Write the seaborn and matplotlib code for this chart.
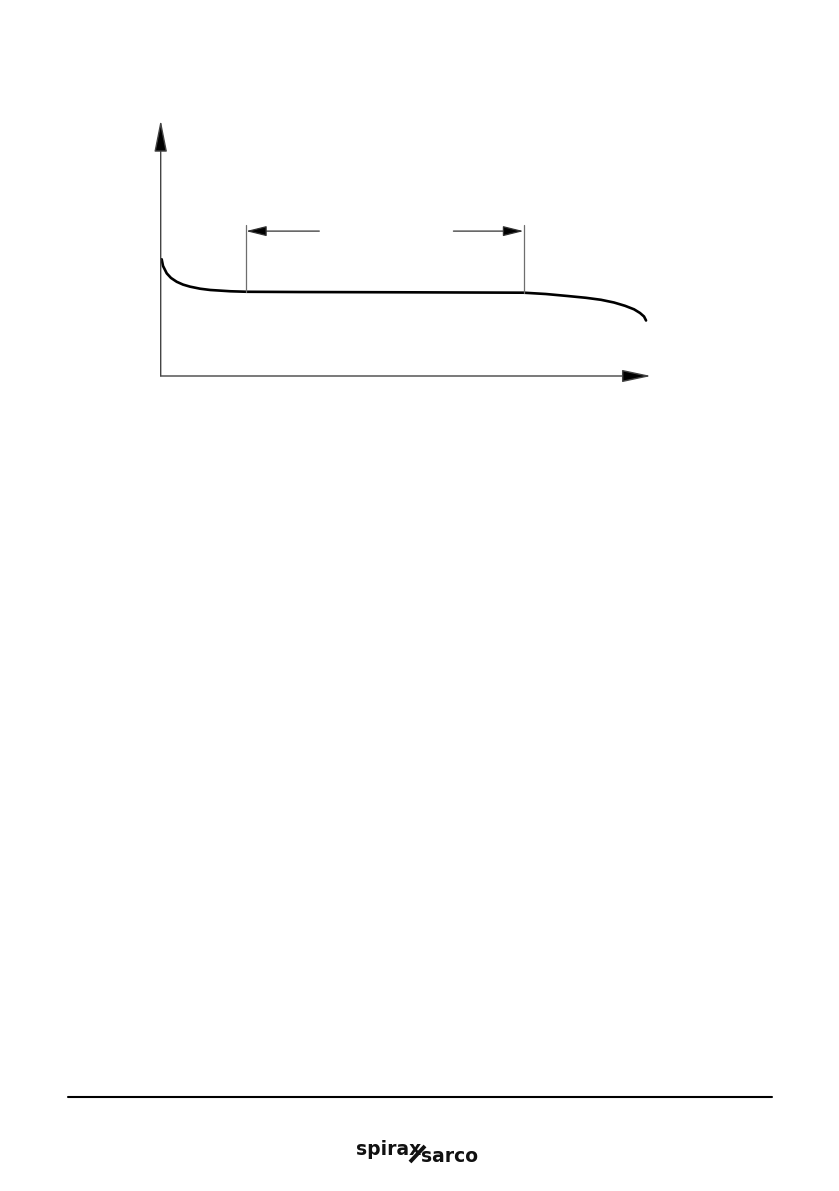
import matplotlib
matplotlib.use("Agg")
import matplotlib.pyplot as plt
import seaborn as sns
import pandas as pd
from matplotlib.lines import Line2D

# ---- data (x: % of time, y: arbitrary level) ----
curve_x = [0.2, 0.47, 1.23, 2.1, 3.27, 4.56, 5.99, 8.03, 10.1, 14.2, 17.6,
           28.5, 48.9, 65.3, 74.04, 78.54, 82.98, 86.72, 89.79, 92.45, 94.70,
           96.54, 97.76, 98.58, 98.99]
curve_y = [45.6, 43.0, 40.1, 38.3, 36.8, 35.7, 34.9, 34.1, 33.6, 33.1, 32.9,
           32.8, 32.7, 32.6, 32.54, 32.03, 31.25, 30.55, 29.77, 28.71, 27.42,
           26.05, 24.61, 23.24, 21.68]
bracket_x = [17.4, 74.0]
bracket_bottom = [32.9, 32.5]
bracket_top = 59.0
arrow_y = 56.6
arrow_tail_x = [32.35, 59.7]
axis_max = [100, 100]
logo_words = ["spirax", "sarco"]

W, H, DPI = 839, 1191, 100
sns.set_theme(style="white")
plt.rcParams['font.family'] = ['DejaVu Sans']

fig = plt.figure(figsize=(W / DPI, H / DPI), dpi=DPI)
fig.patch.set_facecolor("white")

ax = fig.add_axes([160.7 / W, 1 - 376 / H, (651 - 160.7) / W, 256 / H])
ax.set_xlim(0, axis_max[0])
ax.set_ylim(0, axis_max[1])
ax.axis("off")

df = pd.DataFrame({"t": curve_x, "v": curve_y})
sns.lineplot(data=df, x="t", y="v", ax=ax, color="black", linewidth=1.9,
             sort=False, estimator=None)

# axes with arrowheads
ax.annotate("", xy=(0, axis_max[1]), xytext=(0, 0),
            arrowprops=dict(arrowstyle="-|>,head_length=1.65,head_width=0.33",
                            lw=1.0, shrinkA=0, shrinkB=0,
                            fc="black", ec="#444444"),
            annotation_clip=False)
ax.annotate("", xy=(axis_max[0], 0), xytext=(0, 0),
            arrowprops=dict(arrowstyle="-|>,head_length=1.5,head_width=0.32",
                            lw=1.0, shrinkA=0, shrinkB=0,
                            fc="black", ec="#444444"),
            annotation_clip=False)

# bracket verticals
for bx, bb in zip(bracket_x, bracket_bottom):
    ax.plot([bx, bx], [bb, bracket_top], color="#6e6e6e", lw=0.9)

# bracket arrows
for bx, tx in zip(bracket_x, arrow_tail_x):
    ax.annotate("", xy=(bx, arrow_y), xytext=(tx, arrow_y),
                arrowprops=dict(arrowstyle="-|>,head_length=1.05,head_width=0.26",
                                lw=0.9, shrinkA=0, shrinkB=0,
                                fc="black", ec="#333333"))

# footer rule
fig.add_artist(Line2D([68 / W, 772 / W], [1 - 1097 / H, 1 - 1097 / H],
                      transform=fig.transFigure, color="black", lw=1.5))

# logo
fig.text(356 / W, 1 - 1155 / H, logo_words[0], fontsize=13.5, fontweight="bold",
         color="#111111", ha="left", va="baseline")
fig.text(421 / W, 1 - 1162 / H, logo_words[1], fontsize=13.5, fontweight="bold",
         color="#111111", ha="left", va="baseline")
fig.add_artist(Line2D([410 / W, 425 / W], [1 - 1162 / H, 1 - 1146 / H],
                      transform=fig.transFigure, color="#111111", lw=2.8,
                      solid_capstyle="butt"))

fig.savefig("out.png", dpi=DPI, facecolor="white")
